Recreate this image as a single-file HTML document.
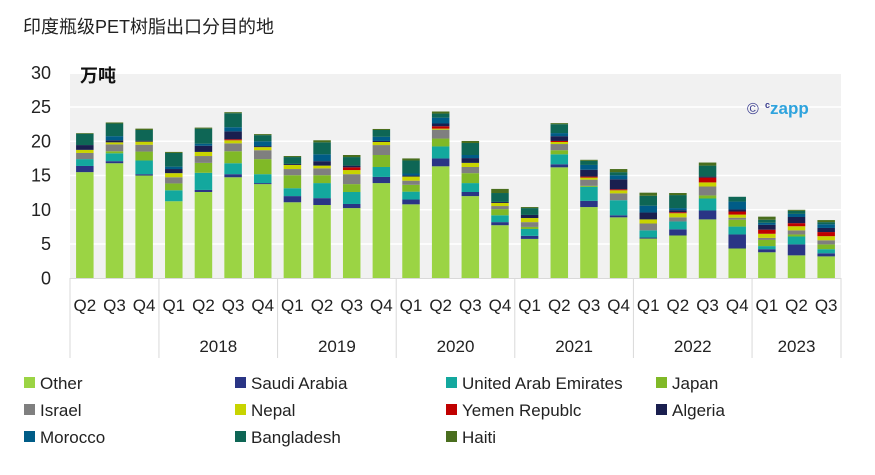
<!DOCTYPE html>
<html><head><meta charset="utf-8">
<style>
body{margin:0;background:#fff;width:875px;height:470px;overflow:hidden;font-family:"Liberation Sans","Noto Sans CJK SC",sans-serif;}
svg text{font-family:"Liberation Sans","Noto Sans CJK SC",sans-serif;}
</style></head>
<body>
<svg id="chart" width="875" height="470" xmlns="http://www.w3.org/2000/svg">
<text x="23" y="33" font-size="18" fill="#222">印度瓶级PET树脂出口分目的地</text>
<rect x="70" y="74" width="771" height="204.3" fill="#f1f1f1"/>
<g id="grid"></g>
<g id="yaxis"></g>
<text x="80" y="82" font-size="18" font-weight="bold" fill="#111">万吨</text>
<g id="bars"></g>
<g id="xaxis"></g>
<text x="747" y="114" font-size="16" fill="#3a3d8f">©</text>
<text x="765" y="114" font-size="17" font-weight="bold" fill="#2ea3dd"><tspan font-size="9" fill="#3a3d8f" dy="-6">c</tspan><tspan dy="6">zapp</tspan></text>
<g id="legend"></g>
</svg>
<script>
const quarters=["Q2","Q3","Q4","Q1","Q2","Q3","Q4","Q1","Q2","Q3","Q4","Q1","Q2","Q3","Q4","Q1","Q2","Q3","Q4","Q1","Q2","Q3","Q4","Q1","Q2","Q3"];
const years=["","2018","2019","2020","2021","2022","2023"];
const yearCounts=[3,4,4,4,4,4,3];
const yTicks=[0,5,10,15,20,25,30];
const seriesNames=["Other","Saudi Arabia","United Arab Emirates","Japan","Israel","Nepal","Yemen Republc","Algeria","Morocco","Bangladesh","Haiti"];
const seriesColors=["#9bd444","#2a3585","#13a89e","#80b927","#7f7f7f","#c8d400","#c00000","#1a1f4f","#005c87","#0e6655","#4a6e1e"];
const other=[15.5,16.8,15.0,11.25,12.6,14.75,13.75,11.1,10.7,10.25,13.9,10.8,16.35,12.0,7.75,5.75,16.2,10.4,8.9,5.8,6.25,8.6,4.35,3.8,3.35,3.2];
const saudi=[0.9,0.3,0.2,0,0.3,0.45,0.15,0.9,1.0,0.6,0.9,0.7,1.15,0.6,0.45,0.45,0.45,0.9,0.3,0.15,0.9,1.3,2.05,0.45,1.6,0.45];
const uae=[1.0,1.15,2.0,1.6,2.5,1.6,1.3,1.15,2.2,1.75,1.45,1.15,1.75,1.3,1.0,1.0,1.45,2.05,2.2,1.05,1.15,1.75,1.15,0.45,1.15,0.6];
const japan=[0,0.3,1.3,1.0,1.45,1.75,2.2,1.9,1.15,1.15,1.75,1.0,1.15,1.45,0.9,0.3,0.6,0.15,0,0,0,0.45,1.0,0.9,0.3,0.7];
const israel=[0.9,1.0,1.0,0.9,1.0,1.15,1.3,0.9,1.0,1.45,1.45,0.6,1.3,0.9,0.45,0.7,0.9,0.9,1.0,1.0,0.6,1.3,0.3,0.3,0.6,0.6];
const nepal=[0.45,0.3,0.45,0.6,0.6,0.45,0.45,0.6,0.4,0.6,0.45,0.6,0.15,0.6,0.45,0.6,0.3,0.3,0.45,0.6,0.6,0.6,0.45,0.6,0.6,0.6];
const yemen=[0,0,0,0,0,0.15,0,0,0,0.4,0,0,0.35,0,0,0,0.15,0.15,0.15,0,0.15,0.7,0.45,0.6,0.45,0.6];
const algeria=[0.7,0.3,0.15,0.6,0.9,1.15,0.15,0.15,0.65,0.25,0.15,0.15,0.4,0.7,0.15,0.45,0.7,1.0,1.45,1.0,0.3,0.15,0.3,0.7,0.9,0.6];
const morocco=[0,0.6,0,0.35,0.3,0.6,0.7,0,1.0,0,0.6,0.3,0.85,0.45,0,0,0.45,0.7,0.6,1.0,0.3,0,1.15,0.3,0.45,0.55];
const bangladesh=[1.65,1.85,1.55,2.0,2.2,2.05,0.9,1.0,1.75,1.25,1.0,1.9,0.6,1.75,1.3,1.0,1.3,0.6,0.45,1.45,1.9,1.6,0.7,0.45,0.45,0.3];
const haiti=[0.1,0.15,0.2,0.15,0.15,0.15,0.15,0.15,0.3,0.3,0.15,0.3,0.3,0.3,0.6,0.15,0.15,0.15,0.45,0.45,0.3,0.45,0,0.45,0.15,0.3];
const series=[other,saudi,uae,japan,israel,nepal,yemen,algeria,morocco,bangladesh,haiti];

const NS="http://www.w3.org/2000/svg";
const X0=70,X1=841,Y0=278.3,PXU=6.85;
const band=(X1-X0)/quarters.length, bw=17.5;
function yScale(v){return Y0-v*PXU;}
function xBand(i){return X0+i*band;}
function mk(tag,attrs,parent){const e=document.createElementNS(NS,tag);for(const k in attrs)e.setAttribute(k,attrs[k]);parent.appendChild(e);return e;}
const grid=document.getElementById('grid'),yaxis=document.getElementById('yaxis');
yTicks.forEach(t=>{
  if(t>0&&t<30){const l=mk('line',{x1:X0,x2:X1,y1:yScale(t),y2:yScale(t),stroke:'#fff','stroke-width':1.5},grid);
  
  }
  const tx=mk('text',{x:51,y:yScale(t)+6,'text-anchor':'end','font-size':18,fill:'#222'},yaxis);
  tx.textContent=t;
  
  
});
const bars=document.getElementById('bars');
quarters.forEach((q,i)=>{
  let acc=0;const cx=xBand(i)+band/2;
  series.forEach((s,k)=>{
    const v=s[i];if(v<=0)return;
    const r=mk('rect',{x:cx-bw/2,y:yScale(acc+v),width:bw,height:v*PXU,fill:seriesColors[k]},bars);
    
    
    acc+=v;
  });
});
const xa=document.getElementById('xaxis');
quarters.forEach((q,i)=>{
  const t=mk('text',{x:xBand(i)+band/2,y:311,'text-anchor':'middle','font-size':17,fill:'#222'},xa);
  t.textContent=q;
  
  
});
let start=0;
years.forEach((y,j)=>{
  const xs=xBand(start),xe=xBand(start+yearCounts[j]);
  const l=mk('line',{x1:xs,x2:xs,y1:278,y2:358,stroke:'#d9d9d9','stroke-width':1},xa);
  
  
  if(y){const t=mk('text',{x:(xs+xe)/2,y:352,'text-anchor':'middle','font-size':17,fill:'#222'},xa);
  t.textContent=y;
  
  }
  start+=yearCounts[j];
});
const le=mk('line',{x1:X1,x2:X1,y1:278,y2:358,stroke:'#d9d9d9'},xa);


const lb=mk('line',{x1:X0,x2:X1,y1:278.5,y2:278.5,stroke:'#d9d9d9'},xa);


const lg=document.getElementById('legend');
const colX=[24,235,446,656],rowY=[383,410,437];
seriesNames.forEach((n,k)=>{
  const cx=colX[k%4],cy=rowY[Math.floor(k/4)];
  const g=mk('g',{},lg);
  
  
  mk('rect',{x:cx,y:cy-6,width:11,height:11,fill:seriesColors[k]},g);
  const t=mk('text',{x:cx+16,y:cy+6,'font-size':17,fill:'#222'},g);
  t.textContent=n;
});
</script>
</body></html>
